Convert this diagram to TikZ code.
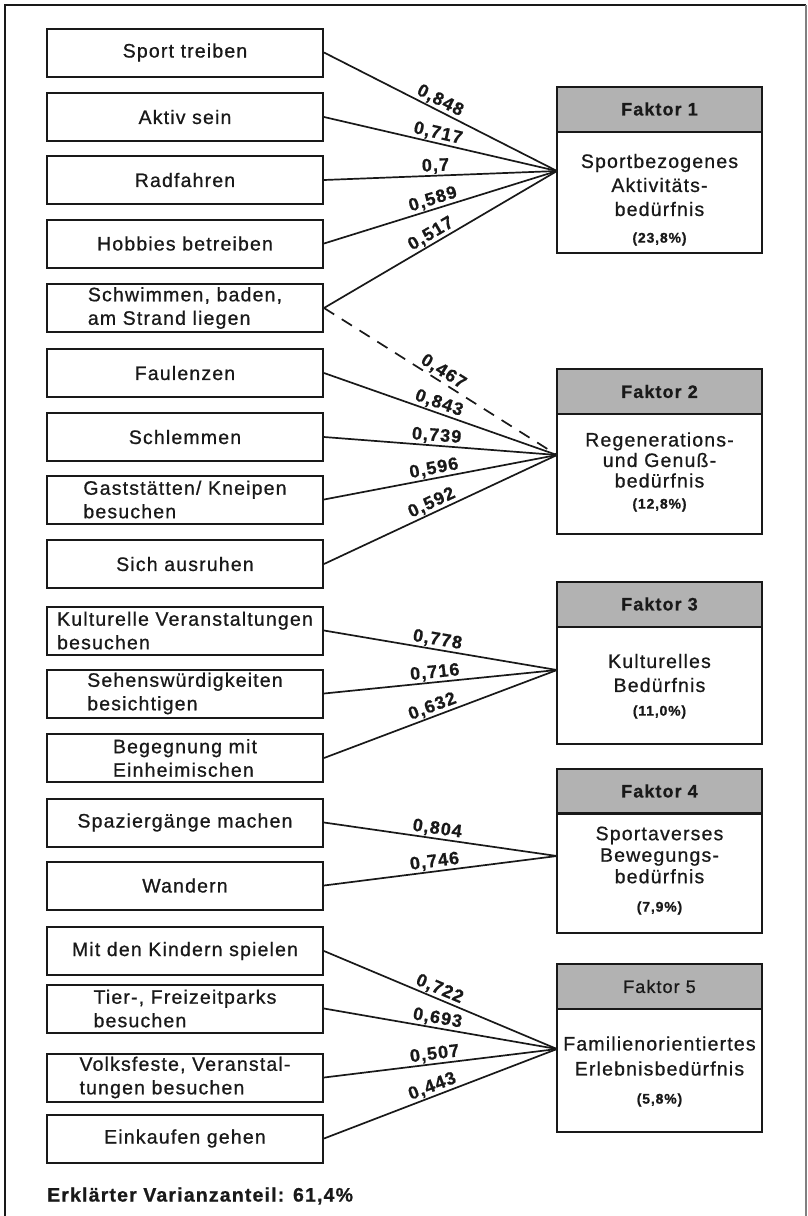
\documentclass[tikz,border=0pt]{standalone}
\usepackage{fontspec}
\setmainfont{Liberation Sans}[LetterSpace=6, FakeBold=0.8]
\definecolor{hdrgray}{RGB}{178,178,178}
\definecolor{ink}{RGB}{25,25,25}
\begin{document}
\begin{tikzpicture}[x=1pt,y=-1pt,
  item/.style={draw=ink, line width=2pt, minimum width=276pt, minimum height=48pt,
    inner sep=0pt, align=left, text=ink, font=\fontsize{19.5}{23.5}\selectfont},
  header/.style={draw=ink, line width=2pt, fill=hdrgray, minimum width=205pt,
    minimum height=45pt, inner sep=0pt, text=ink, font=\bfseries\fontsize{18}{22}\selectfont},
  body/.style={draw=ink, line width=2pt, minimum width=205pt, inner sep=0pt},
  ftxt/.style={align=center, inner sep=0pt, text=ink},
  pct/.style={inner sep=0pt, text=ink, font=\bfseries\fontsize{14}{16}\selectfont},
  link/.style={draw=ink, line width=1.7pt},
  lbl/.style={pos=0.48, above, sloped, inner sep=1pt, text=ink,
    font=\bfseries\fontsize{18}{20}\selectfont}]
\useasboundingbox (0,0) rectangle (807,1216);

% outer frame
\draw[ink, line width=2.2pt] (5,1216) -- (5,5) -- (806,5);
\draw[gray, line width=1.2pt] (806,5) -- (806,1216);

% activity items
\node[item] (s1)  at (185,52.5)  {Sport treiben};
\node[item] (s2)  at (185,117)   {Aktiv sein};
\node[item] (s3)  at (185,180)   {Radfahren};
\node[item] (s4)  at (185,243.5) {Hobbies betreiben};
\node[item] (s5)  at (185,308)   {Schwimmen, baden,\\am Strand liegen};
\node[item] (s6)  at (185,373)   {Faulenzen};
\node[item] (s7)  at (185,437)   {Schlemmen};
\node[item] (s8)  at (185,499.5) {Gaststätten/ Kneipen\\besuchen};
\node[item] (s9)  at (185,564)   {Sich ausruhen};
\node[item] (s10) at (185,630.5) {Kulturelle Veranstaltungen\\besuchen};
\node[item] (s11) at (185,693.5) {Sehenswürdigkeiten\\besichtigen};
\node[item] (s12) at (185,758)   {Begegnung mit\\Einheimischen};
\node[item] (s13) at (185,822.5) {Spaziergänge machen};
\node[item] (s14) at (185,885.5) {Wandern};
\node[item] (s15) at (185,951)   {Mit den Kindern spielen};
\node[item] (s16) at (185,1008.5){Tier-, Freizeitparks\\besuchen};
\node[item] (s17) at (185,1077.5){Volksfeste, Veranstal-\\tungen besuchen};
\node[item] (s18) at (185,1138.5){Einkaufen gehen};

% factor 1
\node[header] (f1h) at (659.5,109) {Faktor 1};
\node[body, minimum height=121pt] (f1b) at (659.5,192.5) {};
\node[ftxt, font=\fontsize{19.5}{24}\selectfont] (f1t) at (659.5,185) {Sportbezogenes\\Aktivitäts-\\bedürfnis};
\node[pct] (f1p) at (659.5,239) {(23,8\%)};
\coordinate (f1in) at (557,171);

% factor 2
\node[header] (f2h) at (659.5,391.5) {Faktor 2};
\node[body, minimum height=120pt] (f2b) at (659.5,474) {};
\node[ftxt, font=\fontsize{19.5}{20.5}\selectfont] (f2t) at (659.5,460) {Regenerations-\\und Genuß-\\bedürfnis};
\node[pct] (f2p) at (659.5,505) {(12,8\%)};
\coordinate (f2in) at (557,455);

% factor 3
\node[header] (f3h) at (659.5,604) {Faktor 3};
\node[body, minimum height=117pt] (f3b) at (659.5,685.5) {};
\node[ftxt, font=\fontsize{19.5}{24}\selectfont] (f3t) at (659.5,673) {Kulturelles\\Bedürfnis};
\node[pct] (f3p) at (659.5,712) {(11,0\%)};
\coordinate (f3in) at (557,670);

% factor 4
\node[header] (f4h) at (659.5,791) {Faktor 4};
\node[body, minimum height=120pt] (f4b) at (659.5,873) {};
\node[ftxt, font=\fontsize{19.5}{21.5}\selectfont] (f4t) at (659.5,855) {Sportaverses\\Bewegungs-\\bedürfnis};
\node[pct] (f4p) at (659.5,908) {(7,9\%)};
\coordinate (f4in) at (557,856);

% factor 5
\node[header, font=\fontsize{18}{22}\selectfont] (f5h) at (659.5,986.5) {Faktor 5};
\node[body, minimum height=123pt] (f5b) at (659.5,1070.5) {};
\node[ftxt, font=\fontsize{19.5}{25}\selectfont] (f5t) at (659.5,1056) {Familienorientiertes\\Erlebnisbedürfnis};
\node[pct] (f5p) at (659.5,1100) {(5,8\%)};
\coordinate (f5in) at (557,1049);

% loadings
\draw[link] (s1.east) -- node[lbl] {0,848} (f1in);
\draw[link] (s2.east) -- node[lbl] {0,717} (f1in);
\draw[link] (s3.east) -- node[lbl] {0,7} (f1in);
\draw[link] (s4.east) -- node[lbl] {0,589} (f1in);
\draw[link] (s5.east) -- node[lbl] {0,517} (f1in);

\draw[link, dash pattern=on 12pt off 9pt] (s5.east) -- node[lbl, pos=0.49] {0,467} (f2in);
\draw[link] (s6.east) -- node[lbl] {0,843} (f2in);
\draw[link] (s7.east) -- node[lbl] {0,739} (f2in);
\draw[link] (s8.east) -- node[lbl] {0,596} (f2in);
\draw[link] (s9.east) -- node[lbl] {0,592} (f2in);

\draw[link] (s10.east) -- node[lbl] {0,778} (f3in);
\draw[link] (s11.east) -- node[lbl] {0,716} (f3in);
\draw[link] (s12.east) -- node[lbl] {0,632} (f3in);

\draw[link] (s13.east) -- node[lbl] {0,804} (f4in);
\draw[link] (s14.east) -- node[lbl] {0,746} (f4in);

\draw[link] (s15.east) -- node[lbl] {0,722} (f5in);
\draw[link] (s16.east) -- node[lbl] {0,693} (f5in);
\draw[link] (s17.east) -- node[lbl] {0,507} (f5in);
\draw[link] (s18.east) -- node[lbl] {0,443} (f5in);

% total explained variance
\node[anchor=west, inner sep=0pt, text=ink, font=\bfseries\fontsize{19.5}{22}\selectfont] (total) at (47,1196) {Erklärter Varianzanteil: 61,4\%};
\end{tikzpicture}
\end{document}
